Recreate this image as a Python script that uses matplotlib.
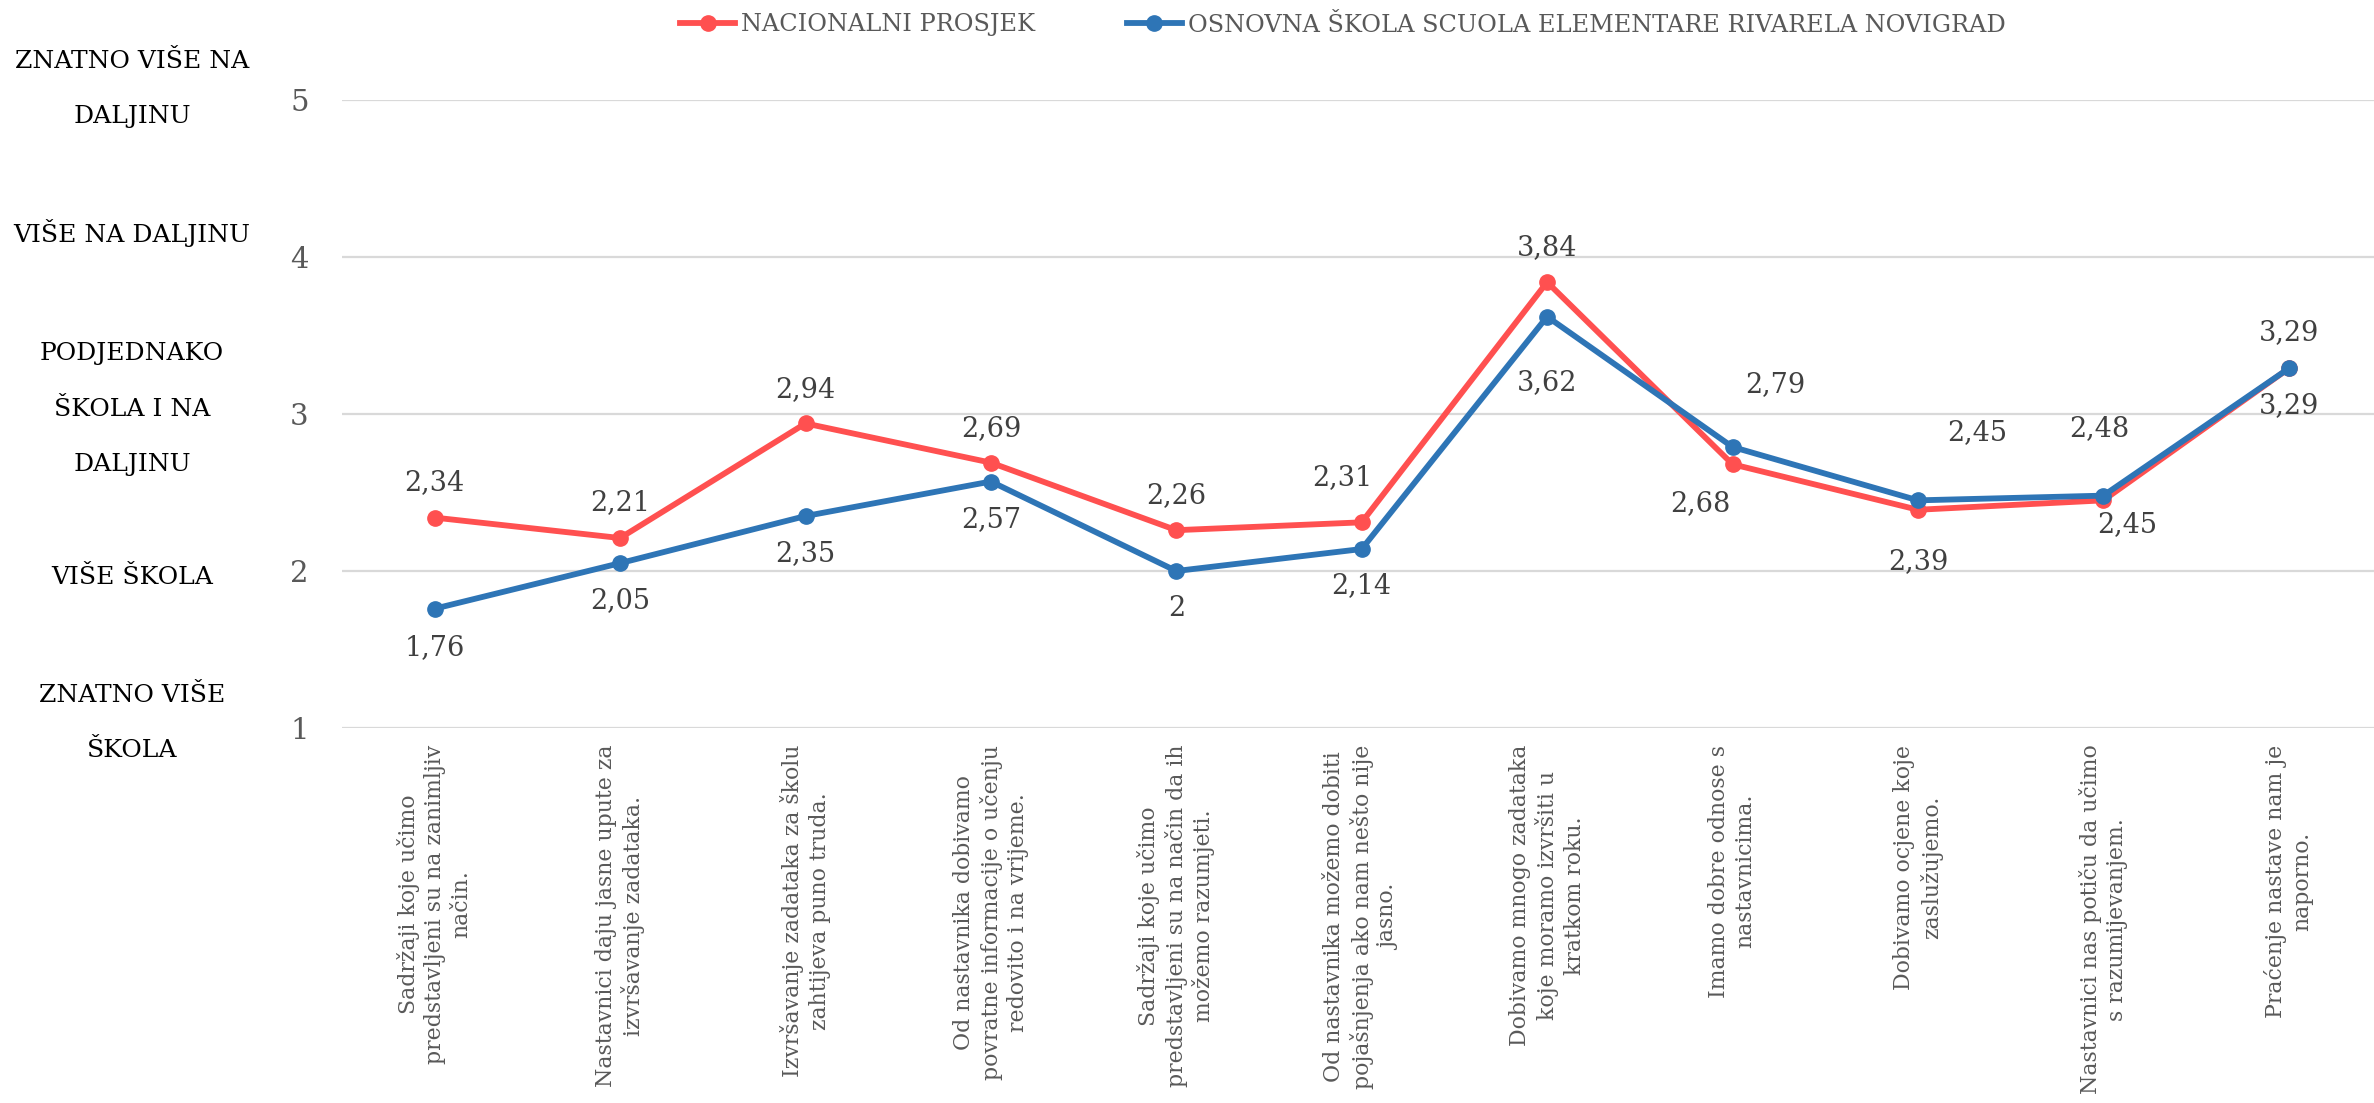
import numpy as np
import matplotlib.pyplot as plt
import matplotlib.transforms as mtransforms

plt.rcParams["font.family"] = ["DejaVu Serif"]

categories = [
    "Sadržaji koje učimo\npredstavljeni su na zanimljiv\nnačin.",
    "Nastavnici daju jasne upute za\nizvršavanje zadataka.",
    "Izvršavanje zadataka za školu\nzahtijeva puno truda.",
    "Od nastavnika dobivamo\npovratne informacije o učenju\nredovito i na vrijeme.",
    "Sadržaji koje učimo\npredstavljeni su na način da ih\nmožemo razumjeti.",
    "Od nastavnika možemo dobiti\npojašnjenja ako nam nešto nije\njasno.",
    "Dobivamo mnogo zadataka\nkoje moramo izvršiti u\nkratkom roku.",
    "Imamo dobre odnose s\nnastavnicima.",
    "Dobivamo ocjene koje\nzaslužujemo.",
    "Nastavnici nas potiču da učimo\ns razumijevanjem.",
    "Praćenje nastave nam je\nnaporno.",
]

nacionalni = [2.34, 2.21, 2.94, 2.69, 2.26, 2.31, 3.84, 2.68, 2.39, 2.45, 3.29]
skola = [1.76, 2.05, 2.35, 2.57, 2.00, 2.14, 3.62, 2.79, 2.45, 2.48, 3.29]

name_nac = "NACIONALNI PROSJEK"
name_skola = "OSNOVNA ŠKOLA SCUOLA ELEMENTARE RIVARELA NOVIGRAD"

scale_labels = ["ZNATNO VIŠE NA\nDALJINU", "VIŠE NA DALJINU",
                "PODJEDNAKO\nŠKOLA I NA\nDALJINU", "VIŠE ŠKOLA",
                "ZNATNO VIŠE\nŠKOLA"]
scale_pos = [5.07, 4.15, 3.03, 1.96, 1.03]

# label offsets in pixels (dx, dy), placed by hand like in the original
off_nac = [(0, 35), (0, 35), (0, 34), (0, 34), (0, 35), (-19, 45), (0, 35),
           (-32, -39), (0, -52), (24, -24), (0, -37)]
off_skola = [(0, -39), (0, -37), (0, -37), (0, -38), (0, -37), (0, -37),
             (0, -66), (43, 62), (59, 68), (-4, 67), (0, 36)]

red = "#FF5050"
blue = "#2E75B6"
grey = "#595959"

fig = plt.figure(figsize=(23.74, 11.03), dpi=100)
ax = fig.add_axes([342 / 2374, 375 / 1103, 2032 / 2374, 628 / 1103])

x = np.arange(len(categories))
ax.plot(x, nacionalni, color=red, lw=4.2, marker="o", ms=11,
        label=name_nac, clip_on=False, zorder=3)
ax.plot(x, skola, color=blue, lw=4.2, marker="o", ms=11,
        label=name_skola, clip_on=False, zorder=4)

for vals, offs in [(nacionalni, off_nac), (skola, off_skola)]:
    for i, v in enumerate(vals):
        txt = ("%g" % v).replace(".", ",")
        ax.annotate(txt, (i, v), xytext=offs[i], textcoords="offset pixels",
                    ha="center", va="center", fontsize=19.5, color="#404040")

ax.set_ylim(1, 5)
ax.set_xlim(-0.5, 10.46)
ax.set_yticks([1, 2, 3, 4, 5])
ax.set_xticks(x)
ax.set_xticklabels(categories, rotation=90, ha="center", va="top",
                   multialignment="center", fontsize=15.8, color=grey,
                   linespacing=1.25)
ax.tick_params(axis="x", length=0, pad=12)
ax.tick_params(axis="y", length=0, pad=24, labelsize=21, labelcolor=grey)
ax.grid(axis="y", color="#D9D9D9", lw=1.6)
ax.set_axisbelow(True)
for s in ax.spines.values():
    s.set_visible(False)

trans = mtransforms.blended_transform_factory(fig.transFigure, ax.transData)
for lab, y in zip(scale_labels, scale_pos):
    ax.text(132 / 2374, y, lab, transform=trans, ha="center", va="center",
            multialignment="center", fontsize=18, color="black",
            linespacing=2.8)

fig.legend(loc="center", bbox_to_anchor=(1343 / 2374, 1 - 25 / 1103), ncol=2,
           frameon=False, fontsize=17.3, labelcolor=grey, handlelength=2.3,
           handletextpad=0.25, columnspacing=3.8, markerscale=1.0)

fig.savefig("out.png", dpi=100)
